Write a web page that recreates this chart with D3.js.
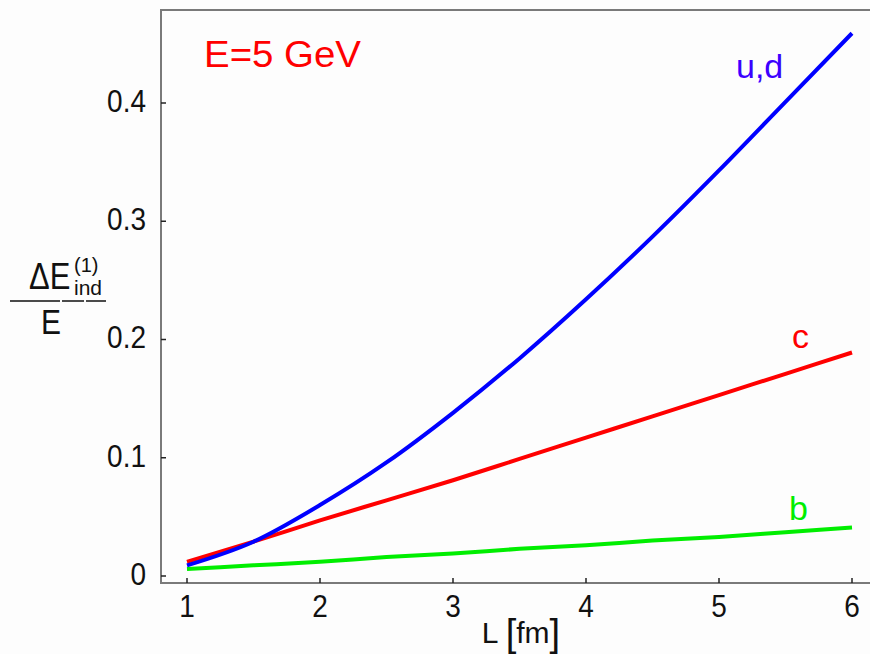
<!DOCTYPE html>
<html>
<head>
<meta charset="utf-8">
<script src="https://cdn.jsdelivr.net/npm/d3@7/dist/d3.min.js"></script>
<style>
  html, body { margin: 0; padding: 0; background: #fdfdfd; }
  svg { display: block; font-family: "Liberation Sans", Arial, sans-serif; }
</style>
</head>
<body>
<svg id="chart" width="870" height="654"></svg>
<script>
// Path length L in fm
const lengths = [1, 1.5, 2, 2.5, 3, 3.5, 4, 4.5, 5, 5.5, 6];
// Relative induced energy loss for each quark flavour at E = 5 GeV
const lightQuark = [0.009, 0.029, 0.060, 0.096, 0.138, 0.184, 0.234, 0.287, 0.343, 0.401, 0.459];
const charmQuark = [0.012, 0.029, 0.047, 0.064, 0.081, 0.099, 0.117, 0.135, 0.153, 0.171, 0.189];
const bottomQuark = [0.006, 0.009, 0.012, 0.016, 0.019, 0.023, 0.026, 0.030, 0.033, 0.037, 0.041];
const xTicks = [1, 2, 3, 4, 5, 6];
const yTicks = [0, 0.1, 0.2, 0.3, 0.4];

const svg = d3.select("#chart");
const x = d3.scaleLinear().domain([1, 6]).range([187, 852]);
const y = d3.scaleLinear().domain([0, 0.4]).range([576, 103]);

const frame = { left: 161, top: 10, right: 872, bottom: 583 };
const axisColor = "#7a7a7a";

// stretch a text element vertically about its baseline
function tall(sel, k) {
  sel.attr("transform", function () {
    const yy = +d3.select(this).attr("y");
    return `translate(0,${yy}) scale(1,${k}) translate(0,${-yy})`;
  });
}

// plot frame
svg.append("rect")
  .attr("x", frame.left).attr("y", frame.top)
  .attr("width", frame.right - frame.left).attr("height", frame.bottom - frame.top)
  .attr("fill", "none").attr("stroke", axisColor).attr("stroke-width", 2);

// inward ticks on the bottom edge
svg.append("g").selectAll("line").data(xTicks).join("line")
  .attr("x1", d => x(d)).attr("x2", d => x(d))
  .attr("y1", frame.bottom).attr("y2", frame.bottom - 5)
  .attr("stroke", "#222").attr("stroke-width", 1.5);
svg.append("g").selectAll("text").data(xTicks).join("text")
  .attr("x", d => x(d)).attr("y", 617)
  .attr("text-anchor", "middle")
  .attr("font-size", 28).attr("fill", "#111")
  .text(d3.format("d"))
  .call(tall, 1.1);

// inward ticks on the left edge
svg.append("g").selectAll("line").data(yTicks).join("line")
  .attr("x1", frame.left).attr("x2", frame.left + 5)
  .attr("y1", d => y(d)).attr("y2", d => y(d))
  .attr("stroke", "#222").attr("stroke-width", 1.5);
svg.append("g").selectAll("text").data(yTicks).join("text")
  .attr("x", 146).attr("y", d => y(d) + 9)
  .attr("text-anchor", "end")
  .attr("font-size", 28).attr("fill", "#111")
  .text(d => d === 0 ? "0" : d3.format(".1f")(d))
  .call(tall, 1.1);

// curves
const line = d3.line()
  .x((d, i) => x(lengths[i]))
  .y(d => y(d))
  .curve(d3.curveMonotoneX);

const series = [
  { values: bottomQuark, color: "#00ee00" },
  { values: charmQuark, color: "#ff0000" },
  { values: lightQuark, color: "#0000ff" }
];
svg.append("g").selectAll("path").data(series).join("path")
  .attr("d", d => line(d.values))
  .attr("fill", "none")
  .attr("stroke", d => d.color)
  .attr("stroke-width", 4)
  .attr("stroke-linecap", "butt");

// curve labels
svg.append("text").attr("x", 736).attr("y", 78)
  .attr("font-size", 34).attr("fill", "#3c00ff").text("u,d");
svg.append("text").attr("x", 792).attr("y", 348)
  .attr("font-size", 34).attr("fill", "#ff0000").text("c");
svg.append("text").attr("x", 789).attr("y", 520)
  .attr("font-size", 34).attr("fill", "#00ee00").text("b");

// energy annotation
svg.append("text").attr("x", 204).attr("y", 67)
  .attr("font-size", 36).attr("fill", "#ff0000")
  .attr("textLength", 157).attr("lengthAdjust", "spacingAndGlyphs")
  .text("E=5 GeV");

// x-axis title
const xt = svg.append("text").attr("x", 521).attr("y", 643)
  .attr("text-anchor", "middle")
  .attr("font-size", 30).attr("fill", "#111");
xt.append("tspan").text("L ");
xt.append("tspan").attr("font-size", 38).attr("dy", 3).text("[");
xt.append("tspan").attr("dy", -3).text("fm");
xt.append("tspan").attr("font-size", 38).attr("dy", 3).text("]");

// y-axis title as a fraction
const yl = svg.append("g").attr("fill", "#111");
yl.append("text").attr("x", 29).attr("y", 289)
  .attr("font-size", 31).text("ΔE").call(tall, 1.2);
yl.append("text").attr("x", 74).attr("y", 272)
  .attr("font-size", 20).text("(1)");
yl.append("text").attr("x", 74).attr("y", 295)
  .attr("font-size", 21).text("ind");
yl.append("line").attr("x1", 10).attr("x2", 106)
  .attr("y1", 301).attr("y2", 301)
  .attr("stroke", "#111").attr("stroke-width", 1.5)
  .attr("stroke-dasharray", "50 2 22 2 30");
yl.append("text").attr("x", 51).attr("y", 334)
  .attr("text-anchor", "middle")
  .attr("font-size", 30).text("E").call(tall, 1.15);
</script>
</body>
</html>
